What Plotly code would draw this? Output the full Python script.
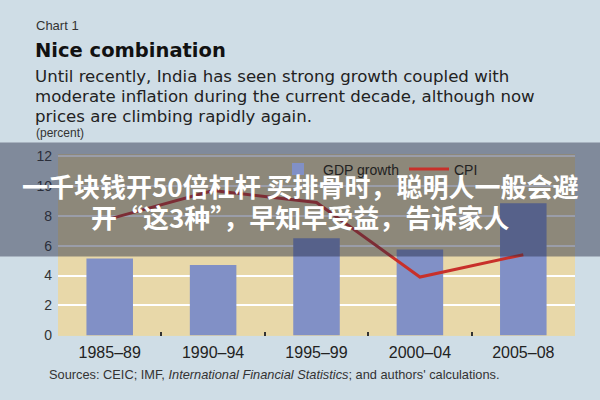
import plotly.graph_objects as go

periods = ["1985–89", "1990–94", "1995–99", "2000–04", "2005–08"]
gdp_growth = [5.15, 4.7, 6.5, 5.75, 8.85]
cpi = [7.8, 9.7, 8.9, 3.9, 5.4]
y_ticks = [0, 2, 4, 6, 8, 10, 12]

BG = "#cfdde6"
PLOT_BG = "#e8d8a9"
BAR = "#8190c6"
LINE = "#c8302a"
TXT = "#222222"

fig = go.Figure()
fig.add_trace(go.Bar(x=periods, y=gdp_growth, name="GDP growth",
                     marker=dict(color=BAR, line=dict(width=0))))
fig.add_trace(go.Scatter(x=periods, y=cpi, name="CPI", mode="lines",
                         line=dict(color=LINE, width=3)))

fig.update_layout(
    width=600, height=400,
    margin=dict(l=0, r=0, t=0, b=0),
    paper_bgcolor=BG, plot_bgcolor=PLOT_BG,
    bargap=0.55,
    showlegend=True,
    legend=dict(orientation="h", x=0.455, xanchor="left", y=1 - 169/400, yanchor="middle",
                bgcolor="rgba(0,0,0,0)", font=dict(family="Liberation Sans", size=14, color=TXT),
                itemwidth=40, tracegroupgap=0),
    font=dict(family="Liberation Sans", color=TXT),
    xaxis=dict(domain=[58/600, 575/600], tickson="boundaries", ticks="inside", ticklen=4,
               tickwidth=1.5, tickcolor="#333", showgrid=False, showline=False,
               tickfont=dict(size=16, color=TXT), ticklabelstandoff=5, fixedrange=True),
    yaxis=dict(domain=[59/400, 247/400], range=[-0.05, 12.15], tickvals=y_ticks,
               showgrid=True, gridcolor="white", gridwidth=2, zeroline=False,
               tickfont=dict(size=14, color="#333"), ticklabelstandoff=5),
)

def ann(text, x, y, size, bold=False, color=TXT, xanchor="left", family="Liberation Sans"):
    fig.add_annotation(text=f"<b>{text}</b>" if bold else text, x=x, y=y, xref="paper", yref="paper",
                       xanchor=xanchor, yanchor="middle", showarrow=False,
                       font=dict(size=size, color=color, family=family))

ann("Chart 1", 34/600, 1 - 20/400, 13, color="#333")
ann("Nice combination", 33/600, 1 - 46/400, 19.5, bold=True, color="#111", family="DejaVu Sans")
ann("Until recently, India has seen strong growth coupled with", 33/600, 1 - 73/400, 16.6, family="DejaVu Sans")
ann("moderate inflation during the current decade, although now", 33/600, 1 - 94/400, 16.6, family="DejaVu Sans")
ann("prices are climbing rapidly again.", 33/600, 1 - 114/400, 16.6, family="DejaVu Sans")
ann("(percent)", 34/600, 1 - 131/400, 12, color="#333")
ann("Sources: CEIC; IMF, <i>International Financial Statistics</i>; and authors' calculations.",
    47/600, 1 - 381/400, 12.8, color="#333")

# overlay banner
fig.add_shape(type="rect", xref="paper", yref="paper", x0=0, x1=1, y0=(400-259)/400, y1=(400-141)/400,
              fillcolor="rgba(35,42,68,0.46)", line=dict(width=0), layer="above")
ann("一千块钱开50倍杠杆 买排骨时，聪明人一般会避", 0.5, 1 - 186/400, 26, bold=True,
    color="white", xanchor="center", family="Noto Sans CJK SC")
ann("开“这3种”，早知早受益，告诉家人", 0.5, 1 - 218/400, 26, bold=True,
    color="white", xanchor="center", family="Noto Sans CJK SC")

fig.write_html("out.html")
